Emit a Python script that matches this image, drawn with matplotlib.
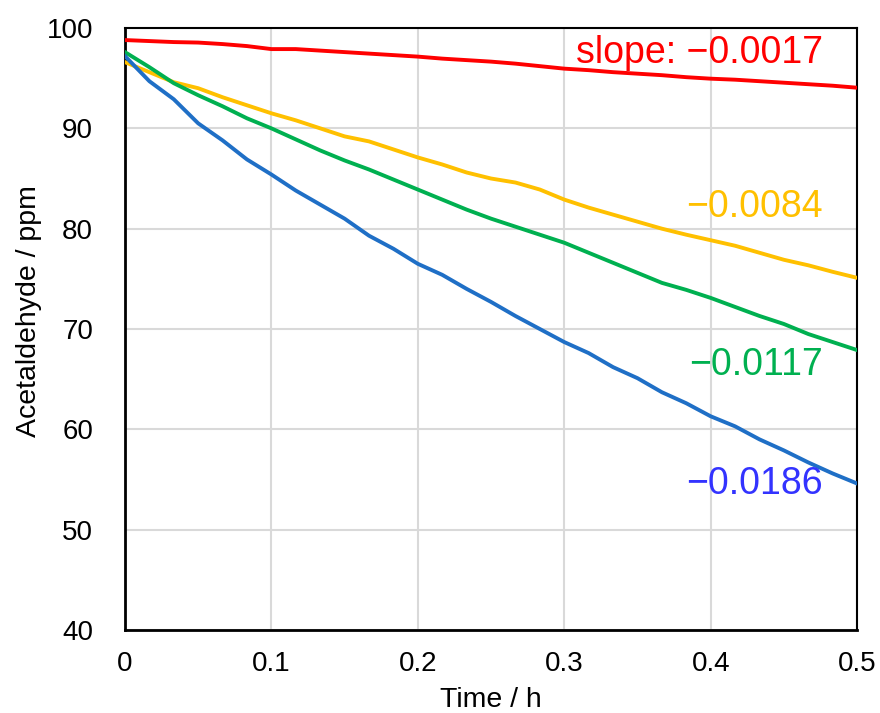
import numpy as np
import matplotlib
matplotlib.use('Agg')
import matplotlib.pyplot as plt

plt.rcParams['font.family'] = ['Liberation Sans', 'DejaVu Sans']

# time in hours, one reading per minute
time_h = np.arange(31) / 60.0

red = [98.8, 98.7, 98.6, 98.55, 98.4, 98.2, 97.9, 97.9, 97.75, 97.6, 97.45,
       97.3, 97.15, 96.95, 96.8, 96.65, 96.45, 96.2, 95.95, 95.8, 95.6, 95.45,
       95.3, 95.1, 94.95, 94.85, 94.7, 94.55, 94.4, 94.25, 94.05]
yellow = [96.6, 95.6, 94.6, 94.0, 93.1, 92.3, 91.5, 90.8, 90.0, 89.2, 88.7,
          87.9, 87.1, 86.4, 85.6, 85.0, 84.6, 83.9, 82.9, 82.1, 81.4, 80.7,
          80.0, 79.4, 78.85, 78.3, 77.6, 76.9, 76.35, 75.7, 75.1]
green = [97.6, 96.1, 94.5, 93.3, 92.2, 91.0, 90.0, 88.9, 87.8, 86.8, 85.9,
         84.9, 83.9, 82.9, 81.9, 81.0, 80.2, 79.4, 78.6, 77.6, 76.6, 75.6,
         74.6, 73.9, 73.1, 72.2, 71.3, 70.5, 69.5, 68.7, 67.9]
blue = [97.2, 94.7, 92.9, 90.5, 88.8, 86.9, 85.4, 83.8, 82.4, 81.0, 79.3,
        78.0, 76.5, 75.4, 74.0, 72.7, 71.3, 70.0, 68.7, 67.6, 66.2, 65.1,
        63.7, 62.6, 61.3, 60.3, 59.0, 57.9, 56.7, 55.6, 54.6]

series = [red, yellow, green, blue]
line_colors = ['#FF0000', '#FFC000', '#00B050', '#1F6FC6']
slope_labels = ['slope: \u22120.0017', '\u22120.0084', '\u22120.0117', '\u22120.0186']
label_colors = ['#FF0000', '#FFC000', '#00B050', '#3333FF']
label_y = [97.5, 82.2, 66.4, 54.6]

fig = plt.figure(figsize=(8.8, 7.13), dpi=100)
ax = fig.add_axes([0.142, 0.1164, 0.832, 0.8443])

for s, c in zip(series, line_colors):
    ax.plot(time_h, s, color=c, lw=2.8, solid_joinstyle='round', zorder=3)

for txt, c, yv in zip(slope_labels, label_colors, label_y):
    ax.text(0.4768, yv, txt, color=c, fontsize=27, ha='right', va='center', zorder=4)

ax.set_xlim(0, 0.5)
ax.set_ylim(40, 100)
ax.set_xticks(np.arange(0, 0.51, 0.1))
ax.set_xticklabels(['0', '0.1', '0.2', '0.3', '0.4', '0.5'])
ax.set_yticks(np.arange(40, 101, 10))
ax.grid(True, color='#D9D9D9', lw=1.5, zorder=0)
ax.set_axisbelow(True)
ax.tick_params(length=0, labelsize=20)
ax.tick_params(axis='y', pad=23)
ax.tick_params(axis='x', pad=15)
for sp in ax.spines.values():
    sp.set_color('black')
    sp.set_linewidth(1.5)
ax.spines['left'].set_linewidth(2)
ax.spines['bottom'].set_linewidth(2)

ax.set_xlabel('Time / h', fontsize=20.5, labelpad=7)
ax.set_ylabel('Acetaldehyde / ppm', fontsize=20.5)
ax.yaxis.set_label_coords(-0.113, 0.53)

fig.savefig('out.png', dpi=100)
